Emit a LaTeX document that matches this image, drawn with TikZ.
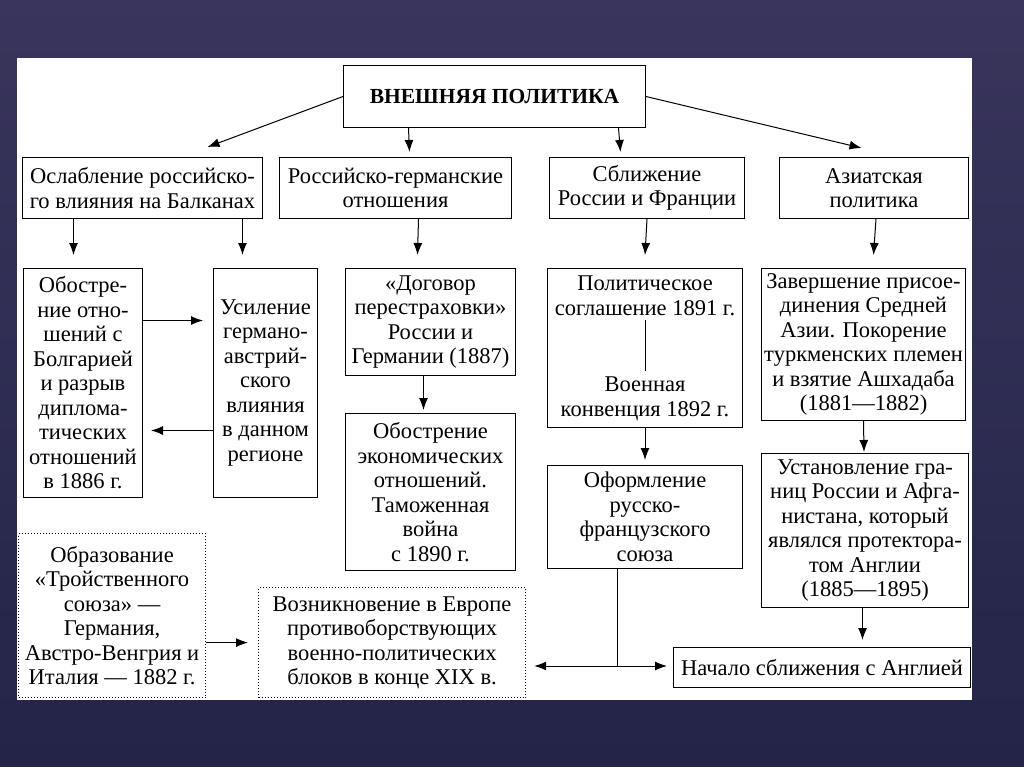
\documentclass[tikz,border=0pt]{standalone}
\usepackage{fontspec}
\setmainfont{Liberation Serif}
\usetikzlibrary{positioning,arrows.meta}

\definecolor{slidetop}{RGB}{57,53,92}
\definecolor{slidebot}{RGB}{35,36,72}

\begin{document}
\begin{tikzpicture}[
    x=1pt, y=-1pt,
    every node/.style={font=\fontsize{22.5}{24.5}\selectfont},
    box/.style={draw, line width=1pt, align=center, inner sep=0pt, anchor=north west},
    dotbox/.style={box, dotted, line width=1.2pt},
    txt/.style={align=center, inner sep=0pt},
    line/.style={-{Latex[length=12pt, width=9pt]}, line width=1pt},
    link/.style={line width=1pt}
]
% slide and sheet
\fill[top color=slidetop, bottom color=slidebot] (0,0) rectangle (1024,767);
\fill[white] (17,58) rectangle (972,700);

\node[box, minimum width=302pt, minimum height=62pt, font=\fontsize{21.5}{26}\selectfont\bfseries] (policy) at (343,65) {ВНЕШНЯЯ ПОЛИТИКА};

% directions
\node[box, minimum width=240pt, minimum height=61pt] (balkan) at (22,157) {Ослабление российско-\\го влияния на Балканах};
\node[box, minimum width=232pt, minimum height=61pt, right=16pt of balkan] (germ) {Российско-германские\\отношения};
\node[box, minimum width=195pt, minimum height=61pt, right=37pt of germ] (franc) {Сближение\\России и Франции};
\node[box, minimum width=189pt, minimum height=61pt, right=34pt of franc] (asia) {Азиатская\\политика};

% events
\node[box, minimum width=119pt, minimum height=229pt] (bulg) at (23,268) {Обостре-\\ние отно-\\шений с\\Болгарией\\и разрыв\\диплома-\\тических\\отношений\\в 1886 г.};
\node[box, minimum width=104pt, minimum height=229pt] (austr) at (213,268) {Усиление\\германо-\\австрий-\\ского\\влияния\\в данном\\регионе};
\node[box, minimum width=170pt, minimum height=107pt] (treaty) at (345,268) {«Договор\\перестраховки»\\России и\\Германии (1887)};
\node[box, minimum width=170pt, minimum height=157pt] (tariff) at (345,413) {Обострение\\экономических\\отношений.\\Таможенная\\война\\с 1890 г.};
\node[box, minimum width=195pt, minimum height=159pt] (pact) at (547,268) {};
\node[txt, below=8pt of pact.north] (pact1) {Политическое\\соглашение 1891 г.};
\node[txt, above=7pt of pact.south] (pact2) {Военная\\конвенция 1892 г.};
\node[box, minimum width=195pt, minimum height=103pt] (union) at (547,465) {Оформление\\русско-\\французского\\союза};
\node[box, minimum width=204pt, minimum height=152pt] (central) at (761,268) {Завершение присое-\\динения Средней\\Азии. Покорение\\туркменских племен\\и взятие Ашхадаба\\(1881—1882)};
\node[box, minimum width=207pt, minimum height=154pt] (afghan) at (761,453) {Установление гра-\\ниц России и Афга-\\нистана, который\\являлся протектора-\\том Англии\\(1885—1895)};
\node[box, minimum width=297pt, minimum height=40pt] (england) at (673,647) {Начало сближения с Англией};
\node[dotbox, minimum width=187pt, minimum height=164pt] (triple) at (18,533) {Образование\\«Тройственного\\союза» —\\Германия,\\Австро-Венгрия и\\Италия — 1882 г.};
\node[dotbox, minimum width=267pt, minimum height=110pt] (blocs) at (258,587) {Возникновение в Европе\\противоборствующих\\военно-политических\\блоков в конце XIX в.};
\coordinate (fork) at (617,666);

\draw[line] (policy.west) -- ([xshift=65pt, yshift=10pt]balkan.north);
\draw[line] ([xshift=-86pt]policy.south) -- ([xshift=14pt, yshift=5pt]germ.north);
\draw[line] ([xshift=124pt]policy.south) -- ([xshift=-26.5pt, yshift=5pt]franc.north);
\draw[line] (policy.east) -- ([xshift=-12.5pt, yshift=9pt]asia.north);

\draw[line] ([xshift=-69pt]balkan.south) -- ([xshift=-9.5pt, yshift=13pt]bulg.north);
\draw[line] ([xshift=100pt]balkan.south) -- ([xshift=-23pt, yshift=13pt]austr.north);
\draw[line] ([xshift=23pt]germ.south) -- ([xshift=-13pt, yshift=13pt]treaty.north);
\draw[line] (franc.south) -- ([yshift=13pt]pact.north);
\draw[line] ([xshift=2pt]asia.south) -- ([xshift=10pt, yshift=13pt]central.north);

\draw[line, shorten >=10pt] ([yshift=62.5pt]bulg.east) -- ([yshift=62.5pt]austr.west);
\draw[line, shorten >=8pt] ([yshift=-47.5pt]austr.west) -- ([yshift=-47.5pt]bulg.east);
\draw[line] ([xshift=-7pt]treaty.south) -- ([xshift=-7pt, yshift=3pt]tariff.north);
\draw[link, shorten <=4pt, shorten >=6pt] (pact1) -- (pact2);
\draw[line] (pact.south) -- ([yshift=5pt]union.north);
\draw[line] (central.south) -- ([xshift=-1pt, yshift=1pt]afghan.north);
\draw[line] ([xshift=-2.5pt]afghan.south) -- ([xshift=40.5pt, yshift=7pt]england.north);

\draw[line, shorten >=10pt] (triple.east |- blocs.west) -- (blocs.west);
\draw[link] (union.south -| fork) -- (fork);
\draw[line, shorten >=8pt] (fork) -- (fork -| blocs.east);
\draw[line, shorten >=6pt] (fork) -- (fork -| england.west);
\end{tikzpicture}
\end{document}
